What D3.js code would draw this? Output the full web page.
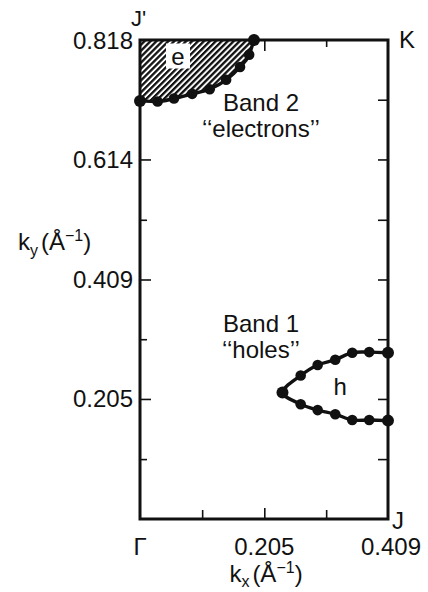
<!DOCTYPE html>
<html><head><meta charset="utf-8">
<script src="https://cdn.jsdelivr.net/npm/d3@7"></script>
<style>
body{margin:0;background:#fff}
svg{display:block}
text{font-family:"Liberation Sans",Arial,Helvetica,sans-serif;fill:#111}
</style></head><body>
<script>
// ---- data ----
const xDomain = [0, 0.409];
const yDomain = [0, 0.818];
const xMajorTicks = [0.205];
const xMinorTicks = [0.1025, 0.307];
const yMajorTicks = [0.205, 0.409, 0.614];
const yMinorTicks = [0.1023, 0.307, 0.511, 0.716];
const xTickLabels = ["Γ", "0.205", "0.409"];
const xTickLabelValues = [0, 0.205, 0.409];
const yTickLabels = ["0.205", "0.409", "0.614", "0.818"];
const yTickLabelValues = [0.205, 0.409, 0.614, 0.818];

// Band 2 "electrons" pocket
const band2Kx = [0, 0.029, 0.056, 0.086, 0.115, 0.142, 0.165, 0.180, 0.188];
const band2Ky = [0.714, 0.713, 0.718, 0.726, 0.734, 0.750, 0.772, 0.793, 0.818];
// Band 1 "holes" pocket
const band1UpperKx = [0.409, 0.378, 0.350, 0.322, 0.293, 0.265, 0.235];
const band1UpperKy = [0.284, 0.285, 0.284, 0.272, 0.263, 0.245, 0.216];
const band1LowerKx = [0.265, 0.293, 0.322, 0.350, 0.378, 0.409];
const band1LowerKy = [0.196, 0.186, 0.179, 0.169, 0.169, 0.168];

// ---- drawing ----
const W = 428, H = 592;
const svg = d3.select("body").append("svg").attr("width", W).attr("height", H);
const x = d3.scaleLinear().domain(xDomain).range([140, 388]);
const y = d3.scaleLinear().domain(yDomain).range([519, 40]);

const band2 = band2Kx.map((k, i) => [k, band2Ky[i]]);
const band1 = band1UpperKx.map((k, i) => [k, band1UpperKy[i]])
  .concat(band1LowerKx.map((k, i) => [k, band1LowerKy[i]]));

// hatch pattern
const defs = svg.append("defs");
const pat = defs.append("pattern").attr("id", "hatch").attr("patternUnits", "userSpaceOnUse")
  .attr("width", 4.2).attr("height", 4.2).attr("patternTransform", "rotate(45)");
pat.append("rect").attr("x", 0).attr("y", 0).attr("width", 2.3).attr("height", 4.2).attr("fill", "#111");

// hatched electron region
svg.append("path")
  .datum(band2)
  .attr("d", d3.area().x(d => x(d[0])).y0(y(yDomain[1])).y1(d => y(d[1])).curve(d3.curveMonotoneX))
  .attr("fill", "url(#hatch)");

// white patch behind "e"
svg.append("rect").attr("x", 166).attr("y", y(0.812)).attr("width", 24).attr("height", 25).attr("fill", "#fff");
svg.append("text").attr("x", 178).attr("y", y(0.776)).attr("text-anchor", "middle")
  .attr("font-size", 24).text("e");

// ticks
function ticks(axisFn, scale, vals, size, transform) {
  const g = svg.append("g").attr("transform", transform)
    .call(axisFn(scale).tickValues(vals).tickSize(size).tickFormat(""));
  g.select(".domain").remove();
  g.selectAll("line").attr("stroke", "#111").attr("stroke-width", 1.6);
}
ticks(d3.axisRight, y, yMajorTicks, 11, `translate(${x(0)},0)`);
ticks(d3.axisRight, y, yMinorTicks.filter(v => v < 0.7), 7, `translate(${x(0)},0)`);
ticks(d3.axisLeft, y, yMajorTicks, 10, `translate(${x(xDomain[1])},0)`);
ticks(d3.axisLeft, y, yMinorTicks, 10, `translate(${x(xDomain[1])},0)`);
ticks(d3.axisTop, x, xMajorTicks, 11, `translate(0,${y(0)})`);
ticks(d3.axisTop, x, xMinorTicks, 9, `translate(0,${y(0)})`);
ticks(d3.axisBottom, x, xMajorTicks, 11, `translate(0,${y(yDomain[1])})`);
ticks(d3.axisBottom, x, [0.307], 7, `translate(0,${y(yDomain[1])})`);

// frame
svg.append("rect").attr("x", x(0)).attr("y", y(yDomain[1]))
  .attr("width", x(xDomain[1]) - x(0)).attr("height", y(0) - y(yDomain[1]))
  .attr("fill", "none").attr("stroke", "#111").attr("stroke-width", 3);

// curves
svg.append("path").attr("d", d3.line().x(d => x(d[0])).y(d => y(d[1])).curve(d3.curveMonotoneX)(band2))
  .attr("fill", "none").attr("stroke", "#111").attr("stroke-width", 3.4);
svg.append("path").attr("d", d3.line().x(d => x(d[0])).y(d => y(d[1])).curve(d3.curveCatmullRom)(band1))
  .attr("fill", "none").attr("stroke", "#111").attr("stroke-width", 3.4);

// points
const pts = band2.concat(band1);
svg.selectAll("circle.pt").data(pts).enter().append("circle").attr("class", "pt")
  .attr("cx", d => x(d[0])).attr("cy", d => y(d[1]))
  .attr("r", (d) => (d[0] === 0 || d[1] === 0.818 || d[0] === 0.235 || d[0] === 0.409) ? 6 : 5.3)
  .attr("fill", "#111");

// tick labels
const fs = 24;
yTickLabels.forEach((t, i) => {
  svg.append("text").attr("x", 133).attr("y", y(yTickLabelValues[i]) + 8.5)
    .attr("text-anchor", "end").attr("font-size", fs).text(t);
});
xTickLabels.forEach((t, i) => {
  svg.append("text").attr("x", x(xTickLabelValues[i]) + (i === 2 ? 3 : 0)).attr("y", 555)
    .attr("text-anchor", "middle").attr("font-size", fs).text(t);
});

// corner labels
svg.append("text").attr("x", 131).attr("y", 26).attr("font-size", 22).text("J'");
svg.append("text").attr("x", 399).attr("y", 48).attr("font-size", fs).text("K");
svg.append("text").attr("x", 392).attr("y", 529).attr("font-size", fs).text("J");

// band labels
function label2(cx, y1, l1, l2) {
  svg.append("text").attr("x", cx).attr("y", y1).attr("text-anchor", "middle").attr("font-size", fs).text(l1);
  svg.append("text").attr("x", cx).attr("y", y1 + 26).attr("text-anchor", "middle").attr("font-size", fs).text(l2);
}
label2(261, 111, "Band 2", "‘‘electrons’’");
label2(261, 332, "Band 1", "‘‘holes’’");
svg.append("text").attr("x", x(0.33)).attr("y", y(0.226) + 8).attr("text-anchor", "middle").attr("font-size", fs).text("h");

// axis titles
const xt = svg.append("text").attr("x", 266).attr("y", 582).attr("text-anchor", "middle").attr("font-size", fs);
xt.append("tspan").text("k");
xt.append("tspan").attr("font-size", 16).attr("dy", 5).text("x");
xt.append("tspan").attr("dy", -5).attr("dx", 3).text("(Å");
xt.append("tspan").attr("font-size", 16).attr("dy", -9).text("−1");
xt.append("tspan").attr("dy", 9).text(")");

const yt = svg.append("text").attr("x", 18).attr("y", 250).attr("font-size", fs);
yt.append("tspan").text("k");
yt.append("tspan").attr("font-size", 16).attr("dy", 6).text("y");
yt.append("tspan").attr("dy", -6).attr("dx", 3).text("(Å");
yt.append("tspan").attr("font-size", 16).attr("dy", -9).text("−1");
yt.append("tspan").attr("dy", 9).text(")");
</script>
</body></html>
